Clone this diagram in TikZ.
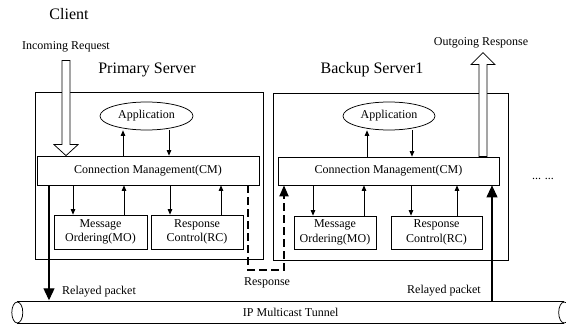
\documentclass[tikz,border=0pt]{standalone}
\usepackage{fontspec}
\setmainfont{Liberation Serif}
\usetikzlibrary{arrows.meta,shapes.geometric}
\begin{document}
\begin{tikzpicture}[x=1pt,y=-1pt,
  box/.style={draw, line width=0.75pt, inner sep=0pt},
  lbl/.style={font=\fontsize{12}{14.5}\selectfont, inner sep=0pt, align=center},
  title/.style={font=\fontsize{16}{19}\selectfont, inner sep=0pt},
  link/.style={line width=0.75pt, -{Triangle[width=4.5pt,length=5.5pt]}},
  relay/.style={line width=1.1pt, -{Triangle[width=11pt,length=12pt]}},
  resp/.style={line width=2pt, dash pattern=on 8pt off 4pt, -{Triangle[width=9pt,length=11pt]}},
  hollow/.style={draw, line width=0.75pt, fill=white}]
\clip (0,0) rectangle (566,326);
\fill[white] (0,0) rectangle (566,326);

% headings
\node[title] (client) at (69,14) {Client};
\node[lbl] (inlbl) at (66,47) {Incoming Request};
\node[lbl] (outlbl) at (481,43) {Outgoing Response};
\node[title] (ptitle) at (147,70) {Primary Server};
\node[title] (btitle) at (372,70) {Backup Server1};

% server frames
\node[box, minimum width=228pt, minimum height=167pt] (pri) at (149,175.5) {};
\node[box, minimum width=235pt, minimum height=167pt] (bak) at (390.5,176.5) {};

% primary server components
\node[box, ellipse, minimum width=93pt, minimum height=28pt, lbl] (app1) at (146.5,116) {Application};
\node[box, minimum width=222pt, minimum height=29pt, lbl] (cm1) at (148,170.5) {Connection Management(CM)};
\node[box, minimum width=93pt, minimum height=34pt, lbl] (mo1) at (100.5,232) {Message\\Ordering(MO)};
\node[box, minimum width=92pt, minimum height=34pt, lbl] (rc1) at (197,232) {Response\\Control(RC)};

% backup server components
\node[box, ellipse, minimum width=92pt, minimum height=28pt, lbl] (app2) at (389,116) {Application};
\node[box, minimum width=221pt, minimum height=28pt, lbl] (cm2) at (388.5,171) {Connection Management(CM)};
\node[box, minimum width=82pt, minimum height=33pt, lbl] (mo2) at (335,232.5) {Message\\Ordering(MO)};
\node[box, minimum width=91pt, minimum height=33pt, lbl] (rc2) at (436.5,232.5) {Response\\Control(RC)};

\node[lbl] (dots) at (543,179) {... ...};

% internal links, primary
\draw[link] (cm1.north -| 123,0) -- (app1.south -| 123,0);
\draw[link] (app1.south -| 169,0) -- (cm1.north -| 169,0);
\draw[link] (cm1.south -| 73,0) -- (mo1.north -| 73,0);
\draw[link] (mo1.north -| 124,0) -- (cm1.south -| 124,0);
\draw[link] (cm1.south -| 170,0) -- (rc1.north -| 170,0);
\draw[link] (rc1.north -| 221,0) -- (cm1.south -| 221,0);

% internal links, backup
\draw[link] (cm2.north -| 367,0) -- (app2.south -| 367,0);
\draw[link] (app2.south -| 412,0) -- (cm2.north -| 412,0);
\draw[link] (cm2.south -| 313,0) -- (mo2.north -| 313,0);
\draw[link] (mo2.north -| 364,0) -- (cm2.south -| 364,0);
\draw[link] (cm2.south -| 411,0) -- (rc2.north -| 411,0);
\draw[link] (rc2.north -| 457,0) -- (cm2.south -| 457,0);

% multicast tunnel
\node[minimum width=546.5pt, minimum height=21pt, inner sep=0pt, lbl] (tunnel) at (290.75,312.5) {IP Multicast Tunnel};
\draw[line width=0.75pt] (tunnel.north west) -- (tunnel.north east);
\draw[line width=0.75pt] (tunnel.south west) -- (tunnel.south east);
\node[box, ellipse, fill=white, minimum width=11pt, minimum height=21pt] (tl) at (tunnel.west) {};
\node[box, ellipse, minimum width=11pt, minimum height=21pt] (tr) at (tunnel.east) {};

% relayed packets
\draw[relay] (cm1.south -| 49,0) -- ([yshift=1.5pt]tunnel.north -| 49,0);
\node[lbl, anchor=west] (rl1) at (62,292) {Relayed packet};
\draw[relay] (tunnel.north -| 492,0) -- (cm2.south -| 492,0);
\node[lbl] (rl2) at (444,291) {Relayed packet};

% response handed over to the backup
\coordinate (r1) at (248,270);
\coordinate (r2) at (284,270);
\draw[resp] (cm1.south -| r1) -- (r1) -- (r2) -- (cm2.south -| r2);
\node[lbl] (rsp) at (267,283) {Response};

% client traffic
\coordinate (inTip) at (cm1.north -| 66,0);
\draw[hollow] (inTip) -- ++(-12,-11) -- ++(8,0) -- ++(0,-84) -- ++(8,0) -- ++(0,84) -- ++(8,0) -- cycle;
\coordinate (outBase) at (cm2.north -| 483,0);
\draw[hollow] (outBase) ++(-4,0) -- ++(0,-92) -- ++(-8,0) -- ++(12,-12) -- ++(12,12) -- ++(-8,0) -- ++(0,92) -- cycle;
\end{tikzpicture}
\end{document}
